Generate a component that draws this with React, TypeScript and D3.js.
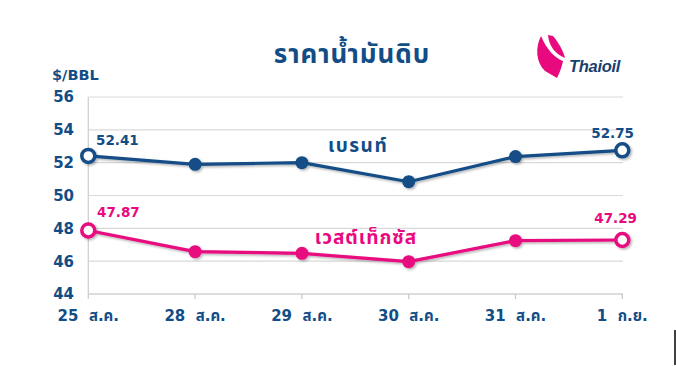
import React from "react";
import * as d3 from "d3";

const categories = ["25  ส.ค.", "28  ส.ค.", "29  ส.ค.", "30  ส.ค.", "31  ส.ค.", "1  ก.ย."];
const brent = [52.41, 51.9, 52.0, 50.84, 52.37, 52.75];
const wti = [47.87, 46.58, 46.48, 45.97, 47.25, 47.29];
const yTicks = [44, 46, 48, 50, 52, 54, 56];

const NAVY = "#124D86";
const PINK = "#E8097F";
const FONT = "'DejaVu Sans', Tahoma, 'Noto Sans Thai', sans-serif";

export default function App() {
  const W = 676, H = 367;
  const x = d3.scalePoint<string>().domain(categories).range([88.3, 622.3]);
  const y = d3.scaleLinear().domain([44, 56]).range([294, 97]);
  const line = d3.line<number>().x((_, i) => x(categories[i])!).y((d) => y(d));

  const renderSeries = (vals: number[], color: string) => (
    <g filter="url(#shadow)">
      <path d={line(vals)!} fill="none" stroke={color} strokeWidth={3.2} strokeLinejoin="round" />
      {vals.map((v, i) => {
        const end = i === 0 || i === vals.length - 1;
        return end ? (
          <circle key={i} cx={x(categories[i])} cy={y(v)} r={6.5} fill="#fff" stroke={color} strokeWidth={3.5} />
        ) : (
          <circle key={i} cx={x(categories[i])} cy={y(v)} r={6.5} fill={color} />
        );
      })}
    </g>
  );

  return (
    <svg width={W} height={H} style={{ position: "absolute", left: 0, top: 0, background: "#fff" }} fontFamily={FONT}>
      <defs>
        <filter id="shadow" x="-10%" y="-20%" width="120%" height="140%">
          <feDropShadow dx="1.5" dy="1.5" stdDeviation="1.2" floodColor="#000" floodOpacity="0.3" />
        </filter>
      </defs>
      {/* gridlines */}
      {yTicks.slice(1).map((t) => (
        <line key={t} x1={88.3} x2={623} y1={y(t)} y2={y(t)} stroke="#D9D9D9" strokeWidth={1.2} />
      ))}
      <line x1={88.3} x2={623} y1={y(44)} y2={y(44)} stroke="#D0D0D0" strokeWidth={1.3} />
      <line x1={88.3} x2={88.3} y1={y(56)} y2={y(44)} stroke="#D0D0D0" strokeWidth={1.3} />
      {categories.map((c) => (
        <line key={c} x1={x(c)} x2={x(c)} y1={y(44)} y2={y(44) + 5} stroke="#C8C8C8" strokeWidth={1.2} />
      ))}
      {/* y tick labels */}
      {yTicks.map((t) => (
        <text key={t} x={74} y={y(t)} dy="0.36em" textAnchor="end" fontSize={15} fontWeight="bold" fill={NAVY}>
          {t}
        </text>
      ))}
      {/* x labels */}
      {categories.map((c) => (
        <text key={c} x={x(c)} y={321} textAnchor="middle" fontSize={15} fontWeight="bold" fill={NAVY} style={{ whiteSpace: "pre" }}>
          {c}
        </text>
      ))}
      <text x={52} y={80} fontSize={14.5} fontWeight="bold" fill={NAVY}>$/BBL</text>
      <text x={352} y={63} textAnchor="middle" fontSize={26} fontWeight="bold" letterSpacing={1} fill={NAVY}>ราคาน้ำมันดิบ</text>

      {renderSeries(brent, NAVY)}
      {renderSeries(wti, PINK)}

      {/* data labels */}
      <text x={96} y={145} fontSize={13.5} fontWeight="bold" fill={NAVY}>{brent[0].toFixed(2)}</text>
      <text x={634} y={138} textAnchor="end" fontSize={13.5} fontWeight="bold" fill={NAVY}>{brent[5].toFixed(2)}</text>
      <text x={97} y={217} fontSize={13.5} fontWeight="bold" fill={PINK}>{wti[0].toFixed(2)}</text>
      <text x={637} y={223} textAnchor="end" fontSize={13.5} fontWeight="bold" fill={PINK}>{wti[5].toFixed(2)}</text>

      {/* series labels */}
      <text x={358} y={152} textAnchor="middle" fontSize={19} fontWeight="bold" letterSpacing={1.5} fill={NAVY}>เบรนท์</text>
      <text x={366} y={244} textAnchor="middle" fontSize={19} fontWeight="bold" letterSpacing={1} fill={PINK}>เวสต์เท็กซัส</text>

      {/* logo */}
      <g fill={PINK}>
        <path d="M541,36 C535,48 536,62 545,71 L557,78 C560,72 562,66 563,61 C555,58 547,50 541,36 Z" />
        <path d="M548,35 C549,46 555,54 565,58 C563,50 558,42 553,36 Z" />
      </g>
      <text x={569} y={72} fontSize={16.5} fontWeight="bold" fontStyle="italic" fill="#17406E" letterSpacing={-0.3} fontFamily="Arial, 'Liberation Sans', sans-serif">Thaioil</text>

      <line x1={675} x2={675} y1={330} y2={365} stroke="#000" strokeWidth={1.5} />
    </svg>
  );
}
